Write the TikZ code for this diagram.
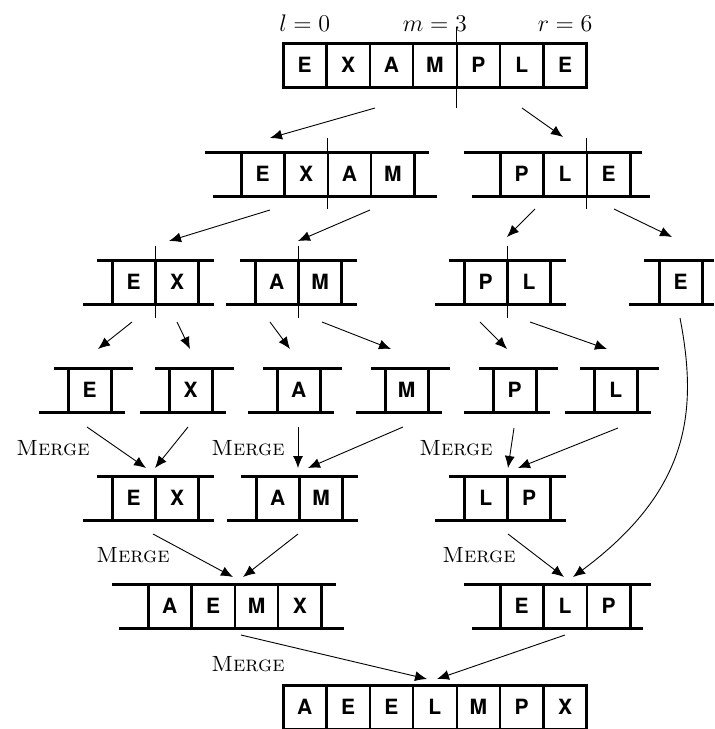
\documentclass[tikz,border=0pt]{standalone}
\usepackage{fontspec}
\setsansfont{TeX Gyre Heros}
\usetikzlibrary{arrows.meta}

% cells of one (sub)array: name, left, top, number of cells, letters
\newcommand{\subarr}[5]{%
  \foreach \c [count=\i] in {#5}
    \node[cell] (#1-\i) at ({#2+(\i-0.5)*43.4},{#3+22}) {\c};
  \draw[rail] (#1-1.north west) rectangle (#1-#4.south east);
}
% rails above and below a subarray
\newcommand{\rails}[6]{%
  \draw[rail] ([shift={(-#3,0)}]#1-1.north west) -- ([shift={(#4,0)}]#1-#2.north east);
  \draw[rail] ([shift={(-#5,0)}]#1-1.south west) -- ([shift={(#6,0)}]#1-#2.south east);
}

\begin{document}
\begin{tikzpicture}[x=0.5pt, y=-0.5pt,
    >={Latex[length=6pt,width=5pt]},
    cell/.style={draw, line width=1.1pt, minimum width=21.7pt, minimum height=22pt,
      inner sep=0pt, outer sep=0pt, font=\fontsize{10.5}{12}\selectfont\sffamily\bfseries},
    rail/.style={line width=1.5pt},
    mid/.style={line width=0.45pt},
    arr/.style={->, line width=0.45pt},
    merge/.style={anchor=base west, inner sep=0pt, font=\fontsize{11}{13}\selectfont\scshape}]
   \useasboundingbox (0,0) rectangle (715,729);

   % divide
   \subarr{n1}{283}{43}{7}{E,X,A,M,P,L,E}
   \node[anchor=base, font=\large] (lbl) at ([yshift=6pt]n1-1.north) {$l=0$};
   \node[anchor=base, font=\large] (mlbl) at ([yshift=6pt]n1-4.north) {$m=3$};
   \node[anchor=base, font=\large] (rlbl) at ([yshift=6pt]n1-7.north) {$r=6$};
   \draw[mid] ([shift={(0,-16)}]n1-4.north east) -- ([shift={(0,21)}]n1-4.south east);

   \subarr{n21}{241}{152}{4}{E,X,A,M}
   \rails{n21}{4}{36}{14}{28}{22}
   \draw[mid] ([shift={(0,-14)}]n21-2.north east) -- ([shift={(0,13)}]n21-2.south east);
   \subarr{n22}{500}{152}{3}{P,L,E}
   \rails{n22}{3}{36}{12}{28}{20}
   \draw[mid] ([shift={(0,-14)}]n22-2.north east) -- ([shift={(0,13)}]n22-2.south east);

   \subarr{n31}{112}{260}{2}{E,X}
   \rails{n31}{2}{15}{15}{29}{15}
   \draw[mid] ([shift={(0,-14)}]n31-1.north east) -- ([shift={(0,14)}]n31-1.south east);
   \subarr{n32}{255}{260}{2}{A,M}
   \rails{n32}{2}{15}{15}{29}{15}
   \draw[mid] ([shift={(0,-14)}]n32-1.north east) -- ([shift={(0,14)}]n32-1.south east);
   \subarr{n33}{464}{260}{2}{P,L}
   \rails{n33}{2}{15}{15}{29}{15}
   \draw[mid] ([shift={(0,-14)}]n33-1.north east) -- ([shift={(0,14)}]n33-1.south east);
   \subarr{n34}{659}{260}{1}{E}
   \rails{n34}{1}{15}{12}{30}{12}

   \subarr{n41}{68}{368}{1}{E}
   \rails{n41}{1}{14}{22}{29}{14}
   \subarr{n42}{169}{368}{1}{X}
   \rails{n42}{1}{14}{22}{29}{14}
   \subarr{n43}{277}{368}{1}{A}
   \rails{n43}{1}{14}{22}{29}{14}
   \subarr{n44}{385}{368}{1}{M}
   \rails{n44}{1}{14}{22}{29}{14}
   \subarr{n45}{493}{368}{1}{P}
   \rails{n45}{1}{14}{22}{29}{14}
   \subarr{n46}{594}{368}{1}{L}
   \rails{n46}{1}{14}{22}{29}{14}

   % merge
   \subarr{n51}{112}{476}{2}{E,X}
   \rails{n51}{2}{15}{15}{29}{15}
   \subarr{n52}{256}{476}{2}{A,M}
   \rails{n52}{2}{15}{15}{29}{15}
   \subarr{n53}{464}{476}{2}{L,P}
   \rails{n53}{2}{15}{15}{29}{15}

   \subarr{n61}{148}{584}{4}{A,E,M,X}
   \rails{n61}{4}{36}{14}{29}{22}
   \subarr{n62}{500}{584}{3}{E,L,P}
   \rails{n62}{3}{36}{21}{28}{13}

   \subarr{n7}{283}{685}{7}{A,E,E,L,M,P,X}

   \node[merge] (mg1) at (16,455) {Merge};
   \node[merge] (mg2) at (211,455) {Merge};
   \node[merge] (mg3) at (419,455) {Merge};
   \node[merge] (mg4) at (96,562) {Merge};
   \node[merge] (mg5) at (442,562) {Merge};
   \node[merge] (mg6) at (211,671) {Merge};

   \draw[arr] ([shift={(92,21)}]n1-1.south west) -- ([shift={(29,-14)}]n21-1.north west);
   \draw[arr] ([shift={(239,21)}]n1-1.south west) -- ([shift={(63,-15)}]n22-1.north west);
   \draw[arr] ([shift={(29,14)}]n21-1.south west) -- ([shift={(57,-19)}]n31-1.north west);
   \draw[arr] ([shift={(129,14)}]n21-1.south west) -- ([shift={(43,-19)}]n32-1.north west);
   \draw[arr] ([shift={(35,13)}]n22-1.south west) -- ([shift={(43,-23)}]n33-1.north west);
   \draw[arr] ([shift={(114,13)}]n22-1.south west) -- ([shift={(13,-23)}]n34-1.north west);
   \draw[arr] ([shift={(20,18)}]n31-1.south west) -- ([shift={(30,-19)}]n41-1.north west);
   \draw[arr] ([shift={(65,18)}]n31-1.south west) -- ([shift={(21,-19)}]n42-1.north west);
   \draw[arr] ([shift={(15,18)}]n32-1.south west) -- ([shift={(13,-19)}]n43-1.north west);
   \draw[arr] ([shift={(67,18)}]n32-1.south west) -- ([shift={(6,-19)}]n44-1.north west);
   \draw[arr] ([shift={(16,18)}]n33-1.south west) -- ([shift={(14,-19)}]n45-1.north west);
   \draw[arr] ([shift={(66,18)}]n33-1.south west) -- ([shift={(13,-19)}]n46-1.north west);

   \draw[arr] ([shift={(19,15)}]n41-1.south west) -- ([shift={(34,-8)}]n51-1.north west);
   \draw[arr] ([shift={(19,15)}]n42-1.south west) -- ([shift={(43,-8)}]n51-1.north west);
   \draw[arr] ([shift={(21,15)}]n43-1.south west) -- ([shift={(42,-8)}]n52-1.north west);
   \draw[arr] ([shift={(18,15)}]n44-1.south west) -- ([shift={(52,-8)}]n52-1.north west);
   \draw[arr] ([shift={(21,16)}]n45-1.south west) -- ([shift={(44,-8)}]n53-1.north west);
   \draw[arr] ([shift={(24,16)}]n46-1.south west) -- ([shift={(54,-8)}]n53-1.north west);
   \draw[arr] ([shift={(21,14)}]n34-1.south west)
      .. controls +(18,93) and +(117,-87) .. ([shift={(73,-7)}]n62-1.north west);

   \draw[arr] ([shift={(41,14)}]n51-1.south west) -- ([shift={(85,-7)}]n61-1.north west);
   \draw[arr] ([shift={(42,14)}]n52-1.south west) -- ([shift={(95,-7)}]n61-1.north west);
   \draw[arr] ([shift={(44,14)}]n53-1.south west) -- ([shift={(64,-7)}]n62-1.north west);

   \draw[arr] ([shift={(93,7)}]n61-1.south west) -- ([shift={(144,-6)}]n7-1.north west);
   \draw[arr] ([shift={(65,7)}]n62-1.south west) -- ([shift={(154,-6)}]n7-1.north west);
\end{tikzpicture}
\end{document}
